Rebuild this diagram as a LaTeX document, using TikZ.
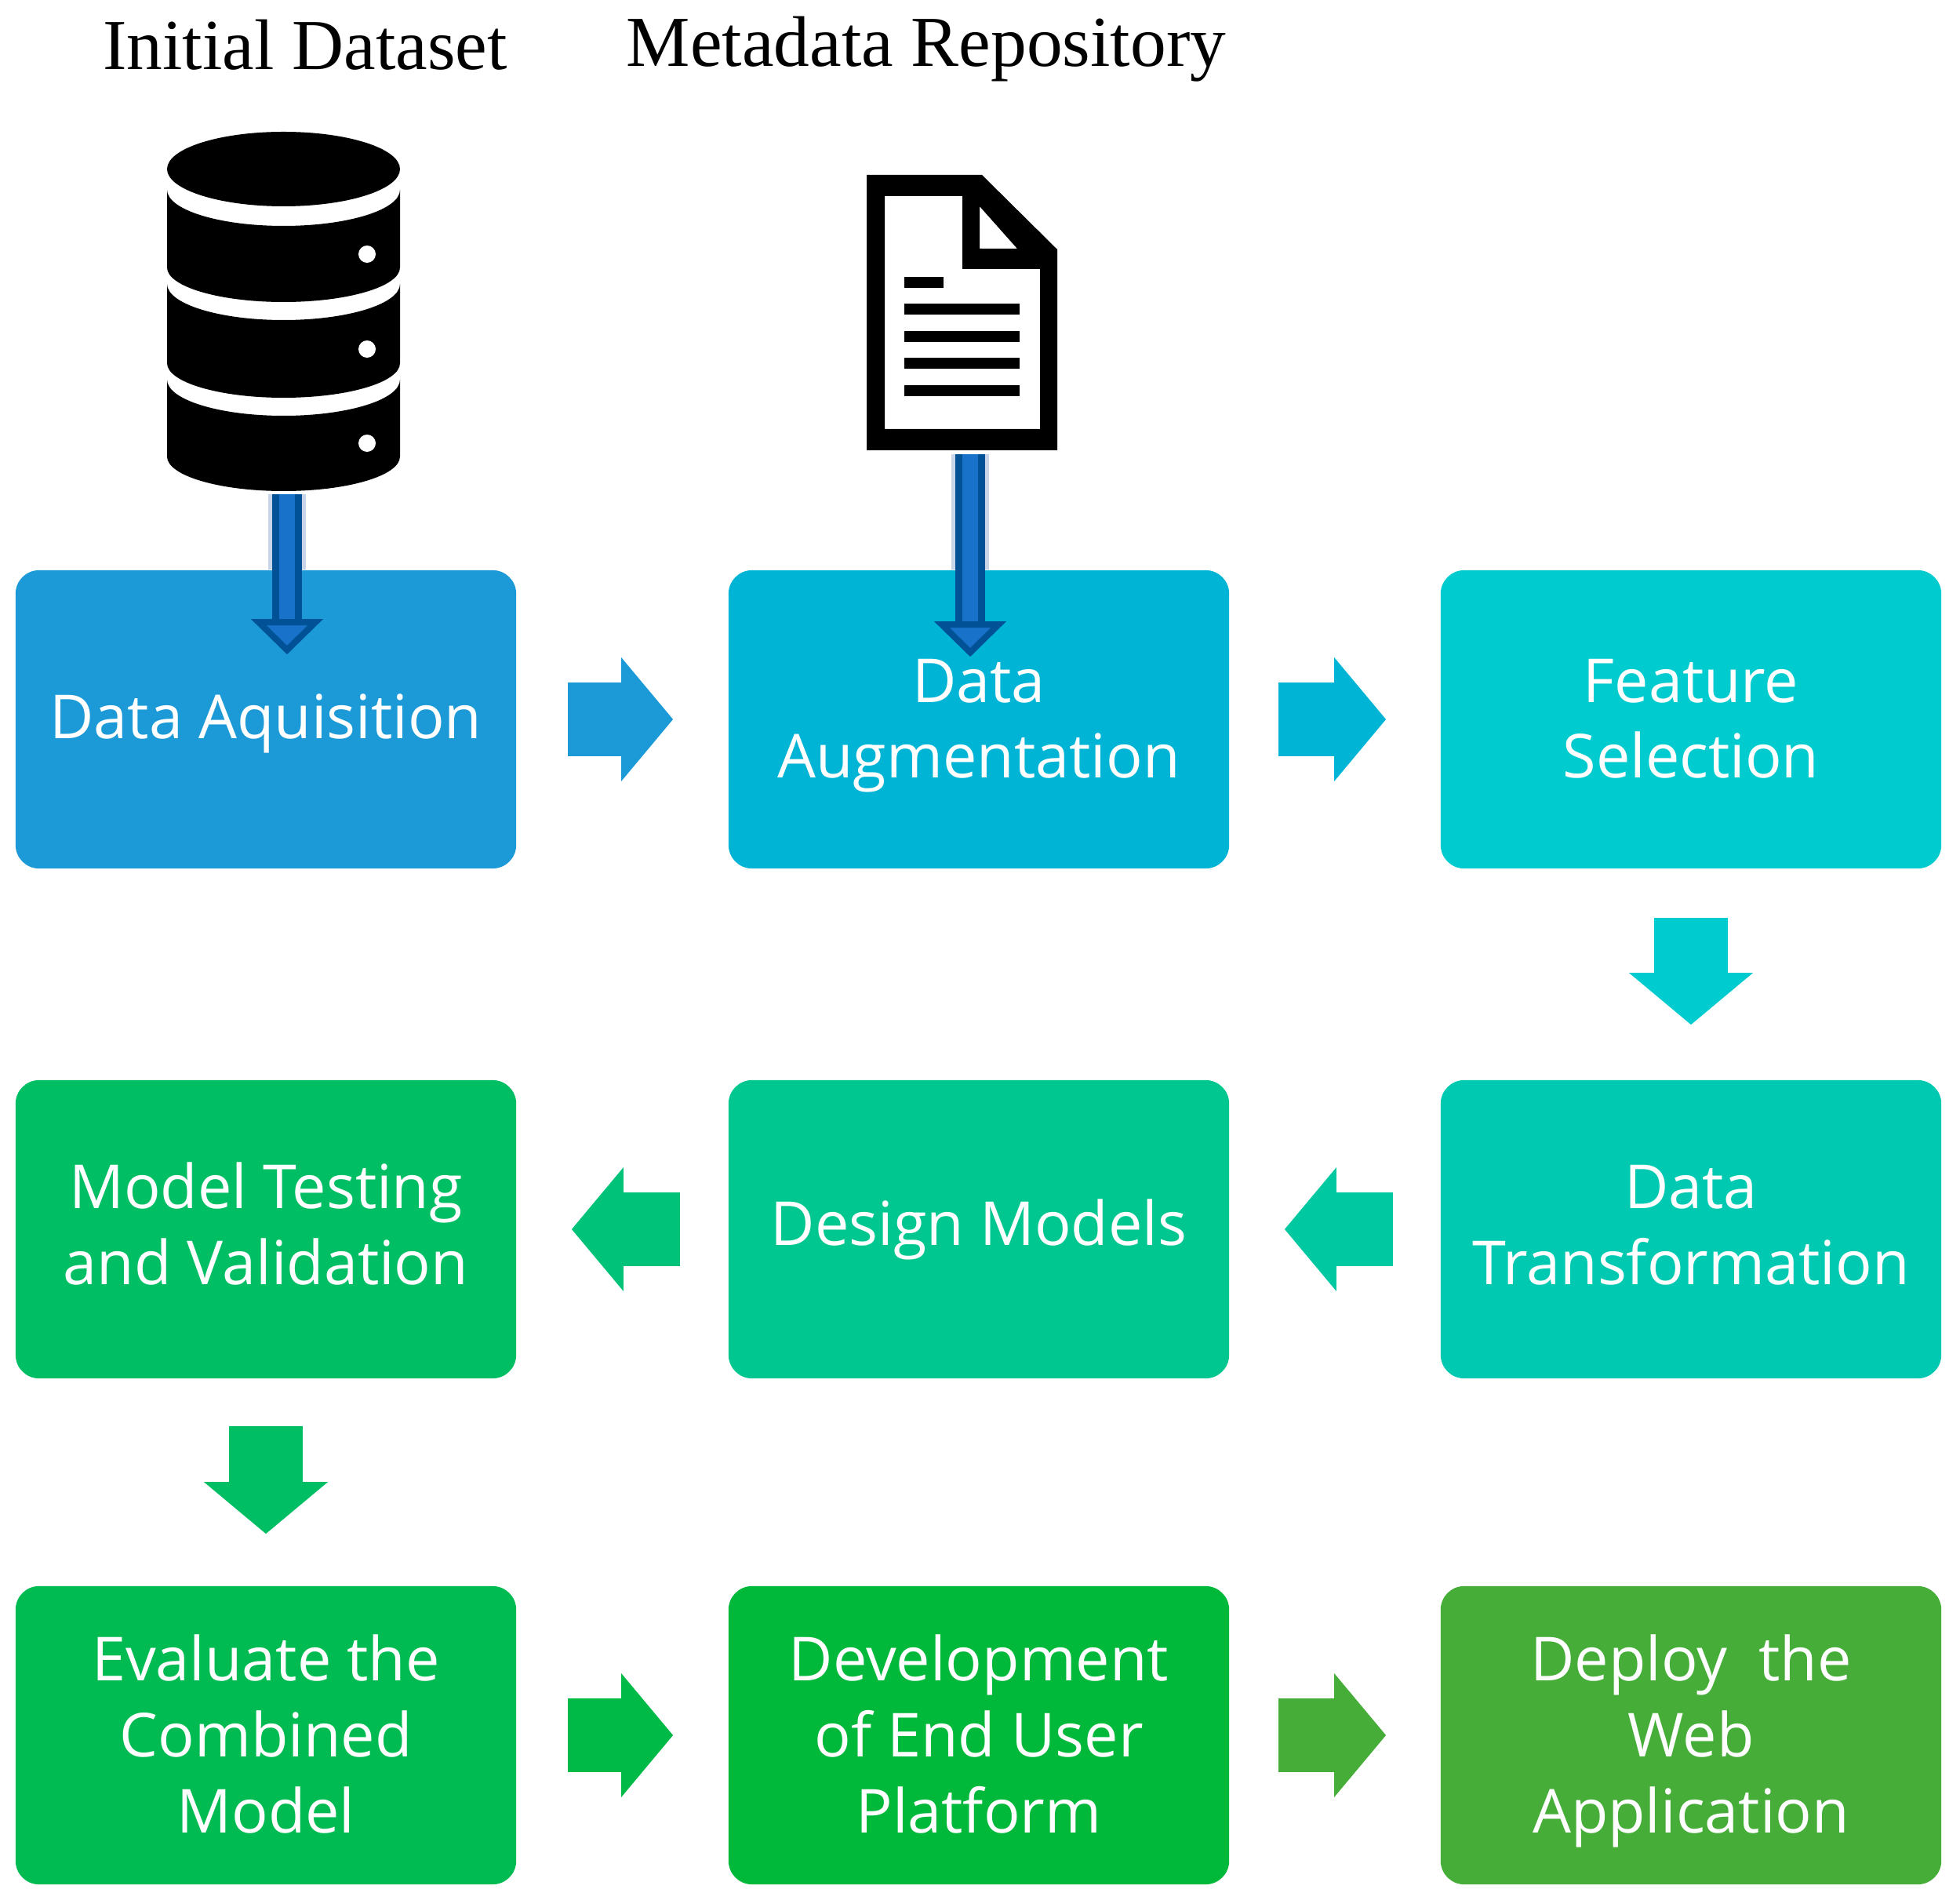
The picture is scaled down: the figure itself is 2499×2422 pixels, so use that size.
\documentclass[tikz,border=0pt]{standalone}
\usepackage{fontspec}
\setsansfont{Open Sans}
\newfontfamily\titlefont{Liberation Serif}
\usepackage{xcolor}
\usetikzlibrary{arrows.meta}
\definecolor{acqblue}{HTML}{1C9AD7}
\definecolor{augblue}{HTML}{00B4D5}
\definecolor{selcyan}{HTML}{00CBCF}
\definecolor{trateal}{HTML}{00C9B1}
\definecolor{desteal}{HTML}{00C78F}
\definecolor{valgreen}{HTML}{00BE63}
\definecolor{combgreen}{HTML}{00BB52}
\definecolor{platgreen}{HTML}{00B83A}
\definecolor{webgreen}{HTML}{45AD38}
\definecolor{feedfill}{HTML}{1972C9}
\definecolor{feedline}{HTML}{005196}
\definecolor{feedhalo}{HTML}{C8D5E8}
\tikzset{
  stagebox/.style={rounded corners=0.3cm,minimum width=6.38cm,minimum height=3.8cm,inner sep=0pt,
    text=white,align=center,text height=19pt,text depth=5pt,font=\sffamily\fontsize{22}{27.5}\selectfont},
  twolines/.style={text height=47.5pt},
  threelines/.style={text height=75.7pt},
  midrow/.style={text depth=7.6pt},
  blockarrow/.style={line width=0.94cm,-{Triangle[width=1.58cm,length=0.66cm,line width=0pt]}},
  feedarrow/.style={feedline,line width=0.09cm,double=feedfill,double distance=0.20cm,
    -{Triangle[width=0.90cm,length=0.45cm,line width=0.08cm,fill=feedfill]}},
  heading/.style={font=\titlefont\fontsize{26}{31}\selectfont}
}
\begin{document}
\begin{tikzpicture}[x=0.01cm,y=-0.01cm]
\useasboundingbox (0,0) rectangle (2499,2422);
\node[heading] (dataset) at (389,57) {Initial Dataset};
\node[heading] (repository) at (1181,63) {Metadata Repository};
% the process boxes
\node[stagebox,fill=acqblue] (acq) at (339,917) {Data Aquisition};
\node[stagebox,twolines,fill=augblue] (aug) at (1248,917) {Data\\Augmentation};
\node[stagebox,twolines,fill=selcyan] (sel) at (2156,917) {Feature\\Selection};
\node[stagebox,twolines,midrow,fill=trateal] (tra) at (2156,1567) {Data\\Transformation};
\node[stagebox,midrow,fill=desteal] (des) at (1248,1567) {Design Models};
\node[stagebox,twolines,midrow,fill=valgreen] (val) at (339,1567) {Model Testing\\and Validation};
\node[stagebox,threelines,fill=combgreen] (comb) at (339,2212) {Evaluate the\\Combined\\Model};
\node[stagebox,threelines,fill=platgreen] (plat) at (1248,2212) {Development\\of End User\\Platform};
\node[stagebox,threelines,fill=webgreen] (web) at (2156,2212) {Deploy\ \ the\\Web\\Application};
% draw the arrows
\draw[blockarrow,acqblue] ([xshift=0.65cm]acq.east) -- ([xshift=-0.70cm]aug.west);
\draw[blockarrow,augblue] ([xshift=0.62cm]aug.east) -- ([xshift=-0.69cm]sel.west);
\draw[blockarrow,selcyan] ([yshift=-0.62cm]sel.south) -- ([yshift=0.70cm]tra.north);
\draw[blockarrow,trateal!50!desteal] ([xshift=-0.60cm]tra.west) -- ([xshift=0.70cm]des.east);
\draw[blockarrow,desteal!50!valgreen] ([xshift=-0.61cm]des.west) -- ([xshift=0.70cm]val.east);
\draw[blockarrow,valgreen] ([yshift=-0.60cm]val.south) -- ([yshift=0.66cm]comb.north);
\draw[blockarrow,combgreen!60!platgreen] ([xshift=0.65cm]comb.east) -- ([xshift=-0.70cm]plat.west);
\draw[blockarrow,webgreen] ([xshift=0.62cm]plat.east) -- ([xshift=-0.69cm]web.west);
% the database
\fill (361.5,215.5) circle [x radius=148.5,y radius=47.5];
\foreach \ytop/\ybot/\ydot in {242/341/324,362/463/445,484/582/565}{
  \fill (213,\ytop) arc [start angle=180,end angle=0,x radius=148.5,y radius=46]
    -- (510,\ybot) arc [start angle=0,end angle=180,x radius=148.5,y radius=44] -- cycle;
  \fill[white] (468,\ydot) circle [radius=11];
}
% the document
\fill[even odd rule] (1105,223) -- (1252,223) -- (1348,318) -- (1348,574) -- (1105,574) -- cycle
  (1128,250) -- (1227,250) -- (1227,343) -- (1326,343) -- (1326,547) -- (1128,547) -- cycle
  (1249,263) -- (1297,317) -- (1249,317) -- cycle;
\fill (1153,353) rectangle (1203,367);
\foreach \yline in {394.5,429,463.5,498}{
  \fill (1153,\yline-7) rectangle (1300,\yline+7);
}
\coordinate (dbout) at (366,630);
\coordinate (docout) at (1237,579);
\draw[feedhalo,line width=0.48cm] (dbout) -- (dbout |- acq.north);
\draw[feedhalo,line width=0.48cm] (docout) -- (docout |- aug.north);
\draw[feedarrow] (dbout) -- ([yshift=-1.08cm]dbout |- acq.north);
\draw[feedarrow] (docout) -- ([yshift=-1.11cm]docout |- aug.north);
\end{tikzpicture}
\end{document}
